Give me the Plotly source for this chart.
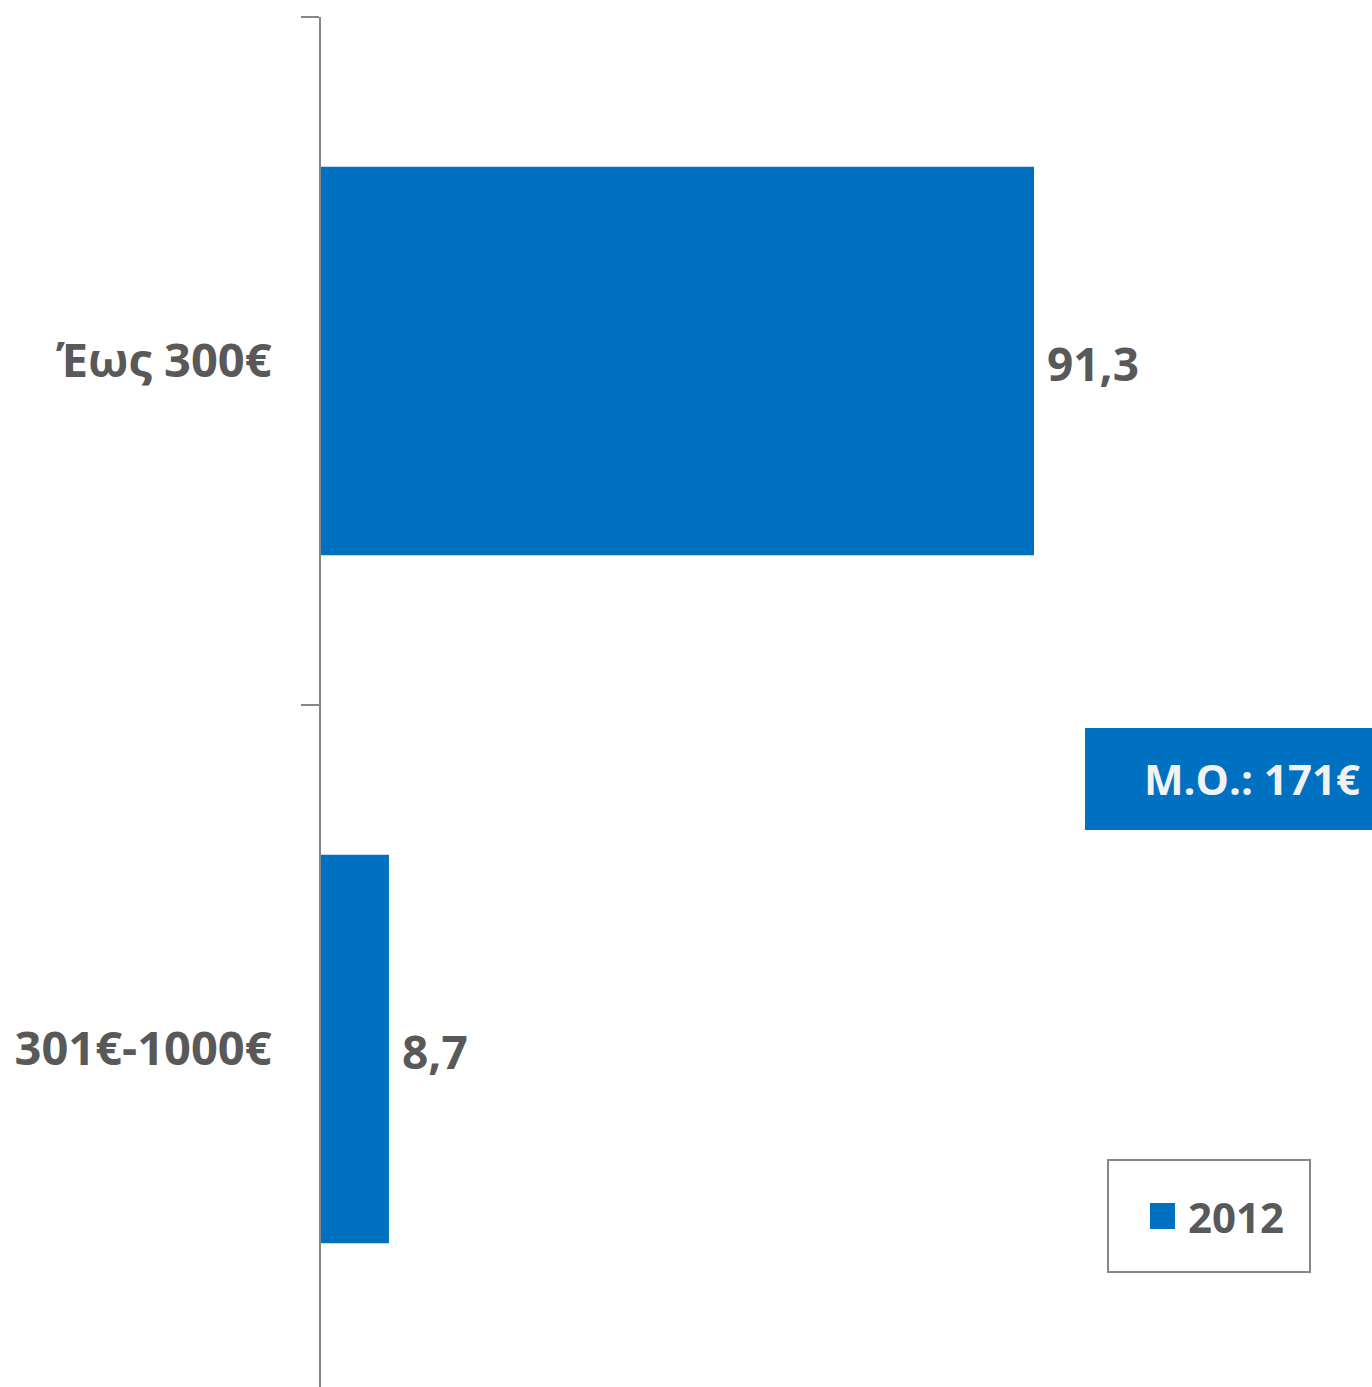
import plotly.graph_objects as go

categories = ["Έως 300€", "301€-1000€"]
values = [91.3, 8.7]
value_labels = ["91,3", "8,7"]
series_name = "2012"
mean_label = "M.O.: 171€"

BLUE = "#0070C0"
GRAY_TXT = "#595959"
AXIS_GRAY = "#868686"
FONT = "Open Sans"

W, H = 1372, 1387
L, R, T, B = 321, 0, 17, 0
pw = W - L - R
ph = H - T - B

def px_x(x):
    return (x - L) / pw

def px_y(y):
    return (H - B - y) / ph

fig = go.Figure()
fig.add_trace(go.Bar(
    y=categories, x=values, orientation="h",
    marker=dict(color=BLUE, line=dict(width=0)),
    width=0.565,
    name=series_name, showlegend=False, hoverinfo="x+y",
))

band = 688.0
units = ph / band
fig.update_yaxes(
    type="category",
    range=[-0.5 + units, -0.5],
    showline=True, linecolor=AXIS_GRAY, linewidth=2,
    ticks="outside", ticklen=18, tickcolor=AXIS_GRAY, tickwidth=2,
    tickson="boundaries",
    ticklabelstandoff=38,
    tickfont=dict(family=FONT, size=47, color=GRAY_TXT, weight="bold"),
    showgrid=False, zeroline=False,
)
scale = (1034 - 321) / values[0]
fig.update_xaxes(range=[0, pw / scale], visible=False, showgrid=False, zeroline=False)

shapes = [
    dict(type="rect", xref="paper", yref="paper",
         x0=px_x(1085), x1=1.01, y0=px_y(830), y1=px_y(728),
         fillcolor=BLUE, line=dict(width=0), layer="above"),
    dict(type="rect", xref="paper", yref="paper",
         x0=px_x(1108), x1=px_x(1310), y0=px_y(1272), y1=px_y(1160),
         fillcolor="white", line=dict(color=AXIS_GRAY, width=2)),
    dict(type="rect", xref="paper", yref="paper",
         x0=px_x(1150), x1=px_x(1175), y0=px_y(1229), y1=px_y(1203),
         fillcolor=BLUE, line=dict(width=0)),
]
annotations = [
    dict(text=mean_label, xref="paper", yref="paper",
         x=px_x(1362), y=px_y(779), xanchor="right", yanchor="middle",
         showarrow=False,
         font=dict(family=FONT, size=42, color="#F2F2F2", weight="bold")),
    dict(text=series_name, xref="paper", yref="paper",
         x=px_x(1186), y=px_y(1216), xanchor="left", yanchor="middle",
         showarrow=False,
         font=dict(family=FONT, size=42, color=GRAY_TXT, weight="bold")),
]
for cat, val, lab in zip(categories, values, value_labels):
    annotations.append(dict(
        text=lab, x=val, y=cat, xref="x", yref="y",
        xanchor="left", yanchor="middle", xshift=11, yshift=-2,
        showarrow=False,
        font=dict(family=FONT, size=46, color=GRAY_TXT, weight="bold"),
    ))

fig.update_layout(
    width=W, height=H,
    margin=dict(l=L, r=R, t=T, b=B, pad=0),
    paper_bgcolor="white", plot_bgcolor="white",
    shapes=shapes, annotations=annotations,
    showlegend=False,
)
fig.write_html(
    "out.html",
    config={"displayModeBar": False},
    post_script="document.body.style.margin='0';document.body.style.overflow='hidden';",
)
